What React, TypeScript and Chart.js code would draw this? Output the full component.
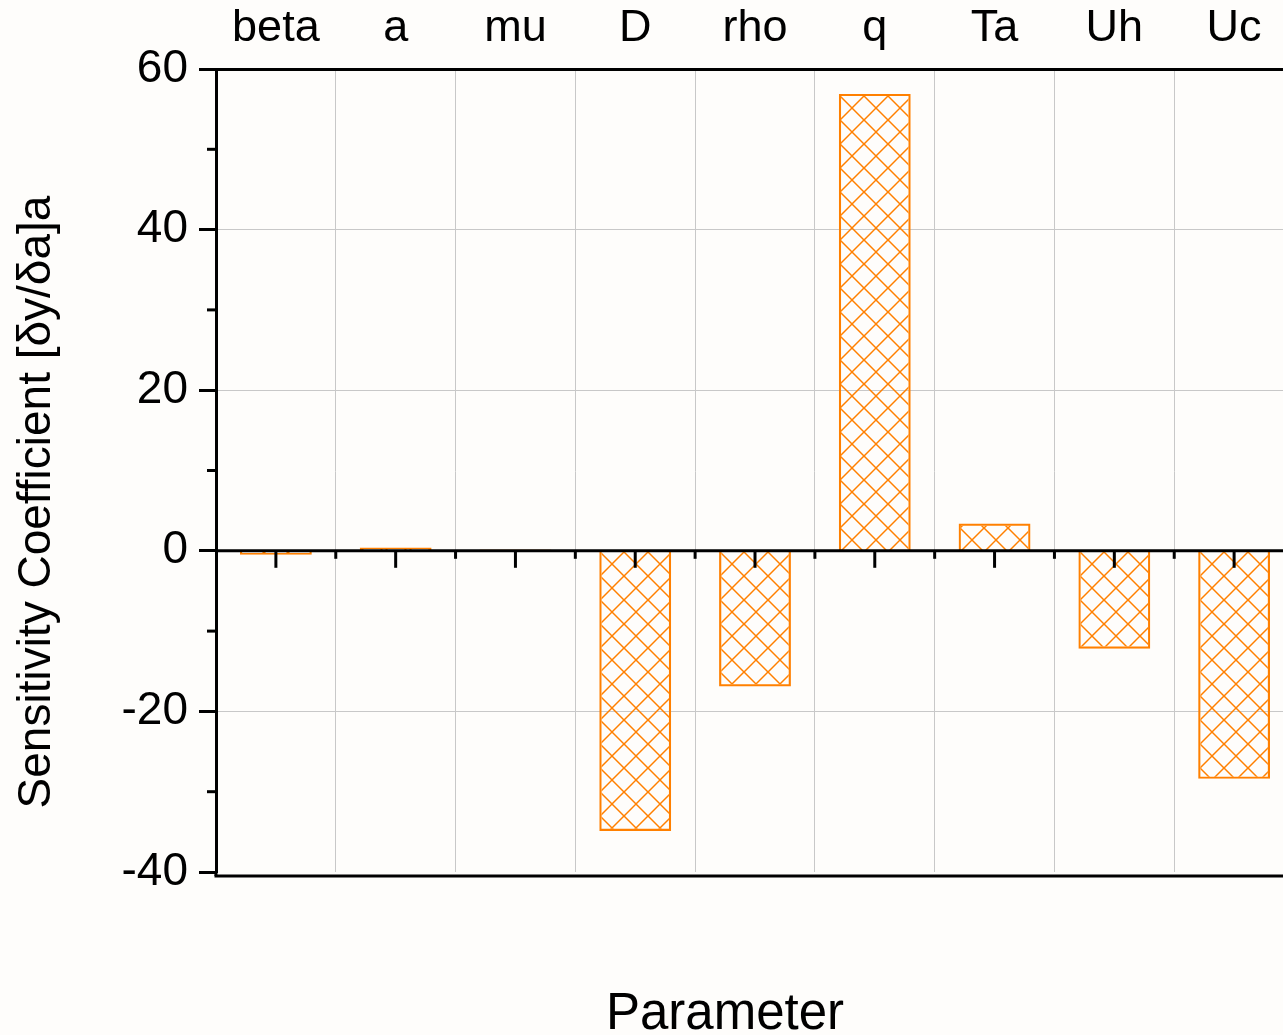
import React, { useEffect, useRef } from "react";
import { Chart, registerables } from "chart.js";

Chart.register(...registerables);

const categories = ["beta", "a", "mu", "D", "rho", "q", "Ta", "Uh", "Uc"];
const sensitivity = [-0.5, 0.4, 0.15, -34.9, -16.9, 56.9, 3.4, -12.2, -28.4];
const yTicks = [-40, -20, 0, 20, 40, 60];
const yMinorTicks = [-30, -10, 10, 30, 50];
const yTitle = "Sensitivity Coefficient [\u03B4y/\u03B4a]a";
const xTitle = "Parameter";

const FONT = "'Liberation Sans', Arial, sans-serif";
const ORANGE = "#ff8000";
const BG = "#fefdfb";

function makeHatch(): CanvasPattern | string {
  const s = 24;
  const c = document.createElement("canvas");
  c.width = s;
  c.height = s;
  const g = c.getContext("2d");
  if (!g) return "transparent";
  g.strokeStyle = ORANGE;
  g.lineWidth = 1.5;
  for (const off of [-s, 0, s]) {
    g.beginPath();
    g.moveTo(off, 0);
    g.lineTo(off + s, s);
    g.stroke();
    g.beginPath();
    g.moveTo(off + s, 0);
    g.lineTo(off, s);
    g.stroke();
  }
  const p = g.createPattern(c, "repeat");
  return p || "transparent";
}

const overlay = {
  id: "overlay",
  afterDatasetsDraw(chart: any) {
    const { ctx, chartArea, scales } = chart;
    const x = scales.x;
    const y = scales.y;
    const y0 = y.getPixelForValue(0);
    ctx.save();
    ctx.strokeStyle = "#000";
    ctx.lineWidth = 3;
    // zero line
    ctx.beginPath();
    ctx.moveTo(chartArea.left, y0);
    ctx.lineTo(chartArea.right, y0);
    ctx.stroke();
    // hanging ticks on zero line
    for (let i = 0; i < categories.length; i++) {
      const cx = x.getPixelForValue(i);
      ctx.beginPath();
      ctx.moveTo(cx, y0);
      ctx.lineTo(cx, y0 + 17);
      ctx.stroke();
      if (i > 0) {
        const bx = (x.getPixelForValue(i - 1) + cx) / 2;
        ctx.beginPath();
        ctx.moveTo(bx, y0);
        ctx.lineTo(bx, y0 + 8);
        ctx.stroke();
      }
    }
    // minor ticks on left axis
    for (const v of yMinorTicks) {
      const py = y.getPixelForValue(v);
      ctx.beginPath();
      ctx.moveTo(chartArea.left, py);
      ctx.lineTo(chartArea.left - 9, py);
      ctx.stroke();
    }
    // bottom axis line, slightly below the -40 tick
    const yb = chartArea.bottom + 4;
    ctx.beginPath();
    ctx.moveTo(chartArea.left - 1.5, yb);
    ctx.lineTo(chartArea.right, yb);
    ctx.stroke();
    ctx.beginPath();
    ctx.moveTo(chartArea.left, chartArea.bottom);
    ctx.lineTo(chartArea.left, yb);
    ctx.stroke();
    ctx.restore();
  },
  afterDraw(chart: any) {
    const { ctx } = chart;
    ctx.save();
    ctx.fillStyle = "#000";
    ctx.font = `46px ${FONT}`;
    ctx.textAlign = "center";
    ctx.textBaseline = "middle";
    ctx.translate(37, 502);
    ctx.rotate(-Math.PI / 2);
    ctx.fillText(yTitle, 0, 0);
    ctx.restore();
    ctx.save();
    ctx.fillStyle = "#000";
    ctx.font = `51px ${FONT}`;
    ctx.textAlign = "center";
    ctx.textBaseline = "alphabetic";
    ctx.fillText(xTitle, 725, 1029);
    ctx.restore();
  },
};

export default function App() {
  const ref = useRef<HTMLCanvasElement | null>(null);
  useEffect(() => {
    document.body.style.overflow = "hidden";
    document.body.style.background = BG;
    const canvas = ref.current;
    if (!canvas) return;
    const chart = new Chart(canvas, {
      type: "bar",
      data: {
        labels: categories,
        datasets: [
          {
            data: sensitivity,
            backgroundColor: makeHatch() as any,
            borderColor: ORANGE,
            borderWidth: 2.2,
            barPercentage: 0.6,
            categoryPercentage: 1,
            xAxisID: "x",
            yAxisID: "y",
          },
        ],
      },
      options: {
        animation: false,
        responsive: false,
        maintainAspectRatio: false,
        devicePixelRatio: 1,
        layout: { padding: 0 },
        plugins: { legend: { display: false }, tooltip: { enabled: false } },
        scales: {
          x: {
            type: "category",
            position: "top",
            offset: true,
            grid: { color: "#c8c8c8", lineWidth: 1, drawTicks: false, offset: true },
            border: { display: true, color: "#000", width: 3 },
            ticks: { font: { family: FONT, size: 45 }, color: "#000", padding: 13, maxRotation: 0, autoSkip: false },
            afterFit: (s: any) => {
              s.height = 69;
            },
          },
          x2: {
            type: "category",
            position: "bottom",
            offset: true,
            grid: { display: false },
            border: { display: false },
            ticks: { display: false },
            afterFit: (s: any) => {
              s.height = 1035 - 872;
            },
          },
          y: {
            type: "linear",
            min: -40,
            max: 60,
            afterBuildTicks: (s: any) => {
              s.ticks = yTicks.map((v) => ({ value: v }));
            },
            grid: {
              color: (c: any) => (c.tick && (c.tick.value === 60 || c.tick.value === -40 || c.tick.value === 0) ? "rgba(0,0,0,0)" : "#c8c8c8"),
              lineWidth: 1,
              drawTicks: true,
              tickLength: 17,
              tickColor: "#000",
              tickWidth: 3,
            },
            border: { display: true, color: "#000", width: 3 },
            ticks: { font: { family: FONT, size: 46 }, color: "#000", padding: 11 },
            afterFit: (s: any) => {
              s.width = 216;
            },
          },
        },
      },
      plugins: [overlay],
    });
    return () => chart.destroy();
  }, []);
  return (
    <div style={{ position: "fixed", left: 0, top: 0, width: 1294, height: 1035, background: BG }}>
      <canvas ref={ref} width={1294} height={1035} style={{ display: "block" }} />
    </div>
  );
}
